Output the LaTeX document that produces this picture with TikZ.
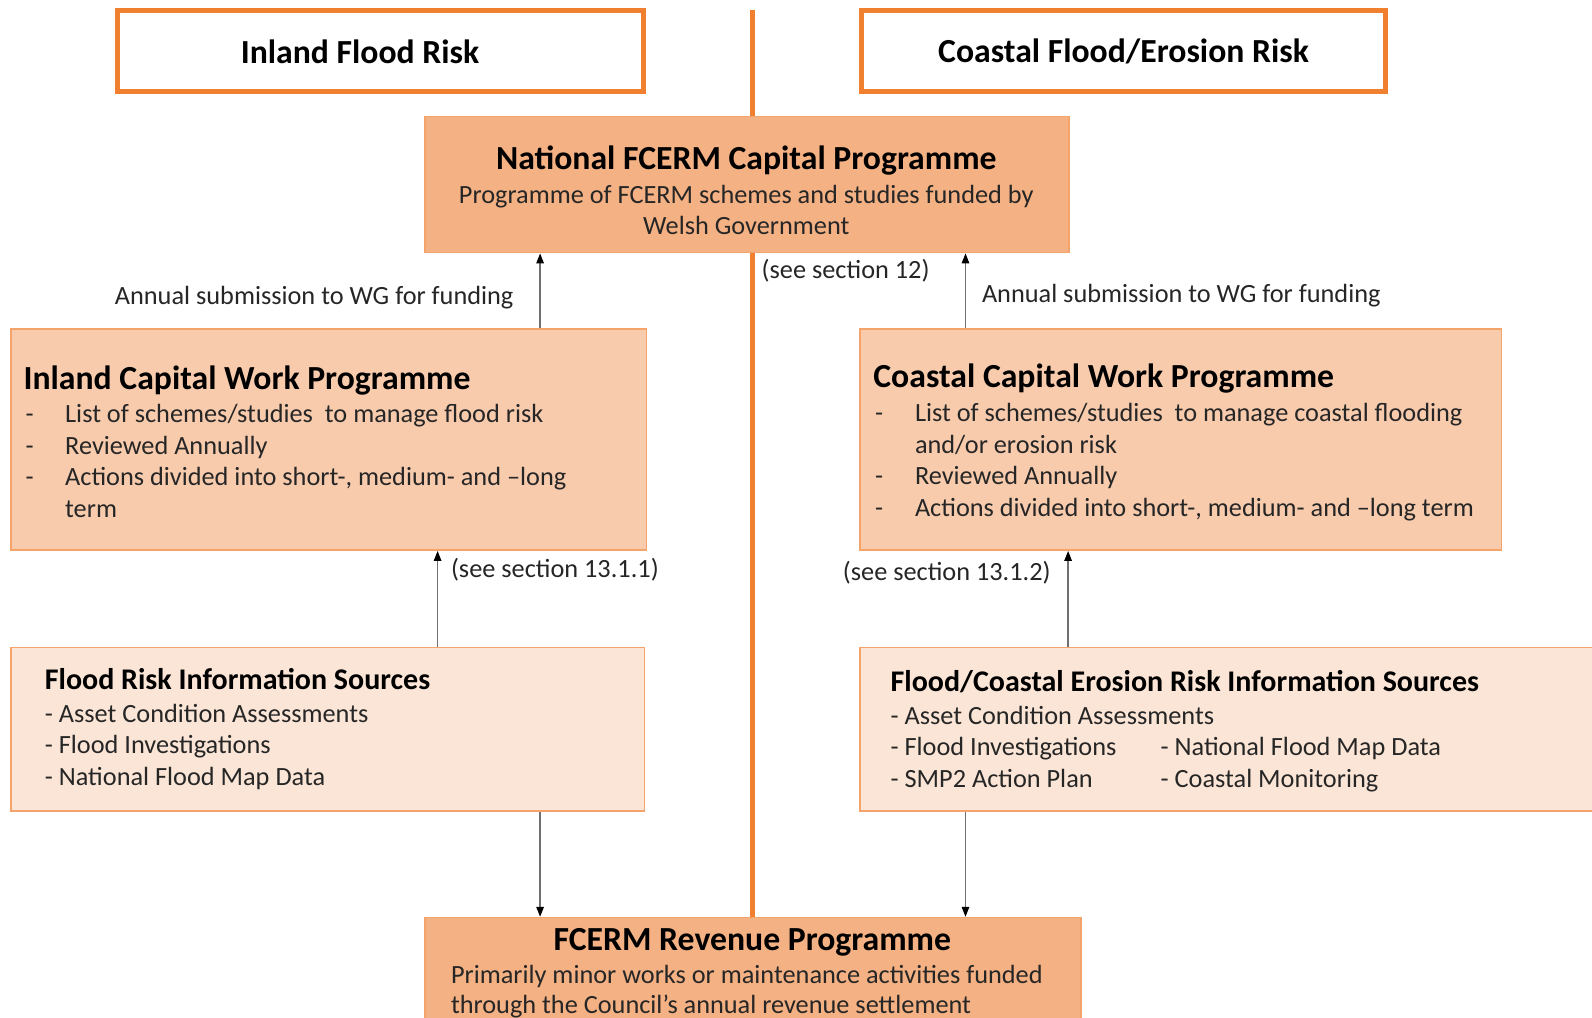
\documentclass[tikz,border=0pt]{standalone}
\usepackage{fontspec}
\setmainfont{Carlito}
\usetikzlibrary{arrows.meta}
\definecolor{orangeB}{HTML}{F08030}
\definecolor{edgeO}{HTML}{F4A46A}
\definecolor{natfill}{HTML}{F4B183}
\definecolor{capfill}{HTML}{F8CBAD}
\definecolor{infofill}{HTML}{FBE5D6}
\definecolor{bodytext}{HTML}{262626}
\definecolor{arrline}{HTML}{707070}
\tikzset{
  hdr/.style={draw=orangeB, line width=5pt, fill=white, inner sep=0pt,
    font=\fontsize{33.7}{40}\selectfont\bfseries},
  hdrtxt/.style={inner sep=0pt, text=black, font=\fontsize{33.7}{40}\selectfont\bfseries},
  boxbase/.style={draw=edgeO, line width=1.6pt, anchor=north west, inner sep=0pt},
  natbox/.style={boxbase, fill=natfill},
  capbox/.style={boxbase, fill=capfill},
  infobox/.style={boxbase, fill=infofill},
  ttl/.style={anchor=base west, inner sep=0pt, text=black,
    font=\fontsize{33.7}{40}\selectfont\bfseries},
  ttls/.style={anchor=base west, inner sep=0pt, text=black,
    font=\fontsize{30}{36}\selectfont\bfseries},
  body/.style={anchor=base west, inner sep=0pt, text=bodytext,
    font=\fontsize{26.3}{32}\selectfont},
  arr/.style={draw=arrline, line width=1.3pt,
    -{Triangle[length=10pt,width=7.5pt,color=black]}},
}
\begin{document}
\begin{tikzpicture}[x=1pt,y=-1pt]
\useasboundingbox (0,0) rectangle (1592,1017);
\clip (0,0) rectangle (1592,1017);
\fill[white] (0,0) rectangle (1592,1017);

% central divider
\coordinate (divtop) at (752.3,10);
\coordinate (divbot) at (752.3,917);
\draw[orangeB, line width=5pt] (divtop) -- (divbot);

% header boxes
\node[hdr, minimum width=526pt, minimum height=81.3pt] (hdrL) at (380.2,51.3) {};
\node[hdrtxt] (hdrLT) at (360,51.3) {Inland Flood Risk};
\node[hdr, minimum width=524pt, minimum height=81.3pt] (hdrR) at (1123.5,51.3) {};
\node[hdrtxt] (hdrRT) at (1123.5,51.3) {Coastal Flood/Erosion Risk};

% national box
\node[natbox, minimum width=643.7pt, minimum height=136.1pt] (nat) at (424.4,115.7) {};
\node[ttl, anchor=base] (natT) at (746.3,169.5) {National FCERM Capital Programme};
\node[body, anchor=base] (natL1) at (746.3,203.4) {Programme of FCERM schemes and studies funded by};
\node[body, anchor=base] (natL2) at (746.3,234.9) {Welsh Government};
\node[body] (sec12) at (761.5,278.6) {(see section 12)};

% capital work programmes
\node[capbox, minimum width=635.5pt, minimum height=221.3pt] (capL) at (10.2,328) {};
\node[ttl] (capLT) at (23.4,389.6) {Inland Capital Work Programme};
\node[body] (capLd1) at (25.4,422.7) {-};
\node[body] (capLi1) at (65,422.7) {List of schemes/studies\ \ to manage flood risk};
\node[body] (capLd2) at (25.4,454.2) {-};
\node[body] (capLi2) at (65,454.2) {Reviewed Annually};
\node[body] (capLd3) at (25.4,485.7) {-};
\node[body] (capLi3) at (65,485.7) {Actions divided into short-, medium- and –long};
\node[body] (capLi4) at (65,517.2) {term};

\node[capbox, minimum width=641.6pt, minimum height=221.3pt] (capR) at (859,328) {};
\node[ttl] (capRT) at (873.2,387.6) {Coastal Capital Work Programme};
\node[body] (capRd1) at (875,421.7) {-};
\node[body] (capRi1) at (914.8,421.7) {List of schemes/studies\ \ to manage coastal flooding};
\node[body] (capRi1b) at (914.8,453.2) {and/or erosion risk};
\node[body] (capRd2) at (875,484.7) {-};
\node[body] (capRi2) at (914.8,484.7) {Reviewed Annually};
\node[body] (capRd3) at (875,516.2) {-};
\node[body] (capRi3) at (914.8,516.2) {Actions divided into short-, medium- and –long term};

% submission labels
\node[body] (subL) at (114.7,304) {Annual submission to WG for funding};
\node[body] (subR) at (981.8,302) {Annual submission to WG for funding};

% information sources
\node[infobox, minimum width=633.5pt, minimum height=163.5pt] (infL) at (10.2,646.7) {};
\node[ttls] (infLT) at (44.7,689.6) {Flood Risk Information Sources};
\node[body] (infL1) at (44.7,722.3) {- Asset Condition Assessments};
\node[body] (infL2) at (44.7,753.7) {- Flood Investigations};
\node[body] (infL3) at (44.7,785.2) {- National Flood Map Data};

\node[infobox, minimum width=760pt, minimum height=163.5pt] (infR) at (859,646.7) {};
\node[ttls] (infRT) at (890.4,691.6) {Flood/Coastal Erosion Risk Information Sources};
\node[body] (infR1) at (890.4,724.3) {- Asset Condition Assessments};
\node[body] (infR2) at (890.4,755.8) {- Flood Investigations};
\node[body] (infR3) at (1160.5,755.8) {- National Flood Map Data};
\node[body] (infR4) at (890.4,787.2) {- SMP2 Action Plan};
\node[body] (infR5) at (1160.5,787.2) {- Coastal Monitoring};

\node[body] (sec1311) at (450.8,577) {(see section 13.1.1)};
\node[body] (sec1312) at (842.7,580) {(see section 13.1.2)};

% revenue programme
\node[natbox, minimum width=655.9pt, minimum height=130pt] (rev) at (424.4,916.8) {};
\node[ttl, anchor=base] (revT) at (752.4,950) {FCERM Revenue Programme};
\node[body] (revL1) at (450.8,983.2) {Primarily minor works or maintenance activities funded};
\node[body] (revL2) at (450.8,1013.7) {through the Council’s annual revenue settlement};

% arrow x positions
\coordinate (xa) at (540.1,0);
\coordinate (xb) at (965.5,0);
\coordinate (xc) at (437.6,0);
\coordinate (xd) at (1068.1,0);

\draw[arr] (capL.north -| xa) -- (nat.south -| xa);
\draw[arr] (capR.north -| xb) -- (nat.south -| xb);
\draw[arr] (infL.north -| xc) -- (capL.south -| xc);
\draw[arr] (infR.north -| xd) -- (capR.south -| xd);
\draw[arr] (infL.south -| xa) -- (rev.north -| xa);
\draw[arr] (infR.south -| xb) -- (rev.north -| xb);
\end{tikzpicture}
\end{document}
